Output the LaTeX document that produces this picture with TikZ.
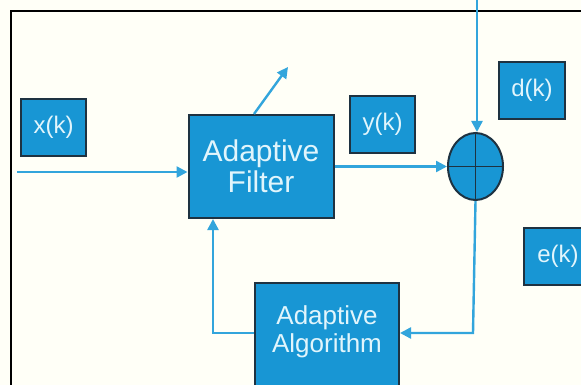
\documentclass[tikz,border=0pt]{standalone}
\usepackage{fontspec}
\setmainfont{Liberation Sans}
\usetikzlibrary{arrows.meta,shapes.geometric}
\definecolor{boxfill}{RGB}{24,150,212}
\definecolor{boxedge}{RGB}{30,50,65}
\definecolor{wire}{RGB}{50,165,220}
\definecolor{txt}{RGB}{225,245,252}
\begin{document}
\begin{tikzpicture}[x=1pt,y=-1pt,
  blk/.style={draw=boxedge, line width=2pt, fill=boxfill, text=txt, inner sep=0pt},
  lbl/.style={text=txt, inner sep=0pt, align=center},
  wireline/.style={draw=wire, line width=2.4pt},
  arr/.style={wireline, -{Triangle[length=11pt,width=11pt]}}]
\useasboundingbox (0,0) rectangle (581,385);
\fill[white!97!yellow] (0,0) rectangle (581,385);
\begin{scope}
\clip (0,0) rectangle (581,385);
\draw[black, line width=2pt] (11,400) -- (11,11) -- (600,11);
% boxes
\node[blk, minimum width=65pt, minimum height=57pt, font=\fontsize{24}{26}\selectfont] (x) at (53.5,127.5) {x(k)};
\node[blk, minimum width=145pt, minimum height=103pt, align=center, font=\fontsize{30}{31}\selectfont] (f) at (261,166.5) {Adaptive\\Filter};
\node[blk, minimum width=65pt, minimum height=57pt, font=\fontsize{24}{26}\selectfont] (y) at (382.5,124.5) {y(k)};
\node[blk, minimum width=66pt, minimum height=57pt, font=\fontsize{24}{26}\selectfont] (d) at (532,90.5) {d(k)};
\node[blk, minimum width=66pt, minimum height=57pt, font=\fontsize{24}{26}\selectfont, anchor=west] (e) at (523,256.5) {\hspace*{2pt}e(k)};
\node[blk, minimum width=144pt, minimum height=140pt] (alg) at (327,353) {};
\node[lbl, font=\fontsize{26}{28}\selectfont] (algt) at (327,332) {Adaptive\\Algorithm};
% summing junction
\node[draw=boxedge, line width=2pt, fill=boxfill, ellipse, minimum width=55pt, minimum height=67pt, inner sep=0pt] (s) at (475.5,166.5) {};
\draw[boxedge, line width=1.8pt] (s.north) -- (s.south) (s.west) -- (s.east);
% connectors
\coordinate (in) at (17,172);
\coordinate (up) at (288,67);
\coordinate (dtop) at (477,0);
\coordinate (j) at (473,333);
\coordinate (k) at (213,333);
\draw[arr] (in) -- (in -| f.west);
\draw[arr] ([xshift=-7pt]f.north) -- (up);
\draw[arr] (f.east) -- (s.west);
\draw[arr] (dtop) -- (dtop |- s.north);
\draw[arr] (s.south) -- (j) -- (j -| alg.east);
\draw[arr] (k -| alg.west) -- (k) -- (k |- f.south);
\end{scope}
\end{tikzpicture}
\end{document}
